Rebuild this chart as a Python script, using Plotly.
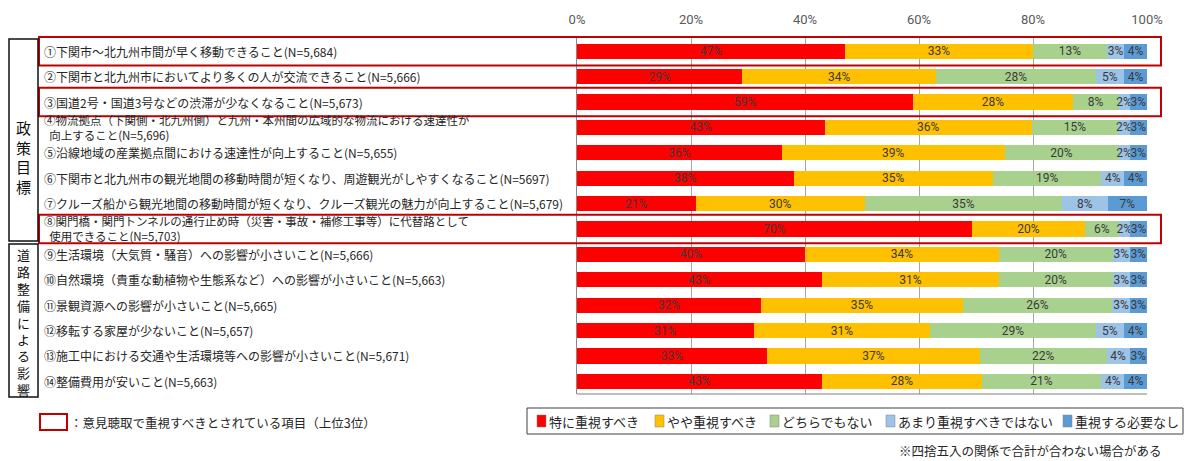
import plotly.graph_objects as go

# ---------------- data ----------------
categories = [
    "①下関市～北九州市間が早く移動できること(N=5,684)",
    "②下関市と北九州市においてより多くの人が交流できること(N=5,666)",
    "③国道2号・国道3号などの渋滞が少なくなること(N=5,673)",
    "④物流拠点（下関側・北九州側）と九州・本州間の広域的な物流における速達性が\n\u00a0\u00a0向上すること(N=5,696)",
    "⑤沿線地域の産業拠点間における速達性が向上すること(N=5,655)",
    "⑥下関市と北九州市の観光地間の移動時間が短くなり、周遊観光がしやすくなること(N=5697)",
    "⑦クルーズ船から観光地間の移動時間が短くなり、クルーズ観光の魅力が向上すること(N=5,679)",
    "⑧関門橋・関門トンネルの通行止め時（災害・事故・補修工事等）に代替路として\n\u00a0\u00a0使用できること(N=5,703)",
    "⑨生活環境（大気質・騒音）への影響が小さいこと(N=5,666)",
    "⑩自然環境（貴重な動植物や生態系など）への影響が小さいこと(N=5,663)",
    "⑪景観資源への影響が小さいこと(N=5,665)",
    "⑫移転する家屋が少ないこと(N=5,657)",
    "⑬施工中における交通や生活環境等への影響が小さいこと(N=5,671)",
    "⑭整備費用が安いこと(N=5,663)",
]
series_names = ["特に重視すべき", "やや重視すべき", "どちらでもない", "あまり重視すべきではない", "重視する必要なし"]
very_important = [47, 29, 59, 43, 36, 38, 21, 70, 40, 43, 32, 31, 33, 43]
somewhat_important = [33, 34, 28, 36, 39, 35, 30, 20, 34, 31, 35, 31, 37, 28]
neutral = [13, 28, 8, 15, 20, 19, 35, 6, 20, 20, 26, 29, 22, 21]
not_very_important = [3, 5, 2, 2, 2, 4, 8, 2, 3, 3, 3, 5, 4, 4]
not_needed = [4, 4, 3, 3, 3, 4, 7, 3, 3, 3, 3, 4, 3, 4]
series_values = [very_important, somewhat_important, neutral, not_very_important, not_needed]
highlighted_rows = [0, 2, 7]  # top 3 in hearing
group_names = ["政策目標", "道路整備による影響"]
tick_vals = [0, 20, 40, 60, 80, 100]
tick_text = ["0%", "20%", "40%", "60%", "80%", "100%"]
highlight_note = "：意見聴取で重視すべきとされている項目（上位3位）"
footnote = "※四捨五入の関係で合計が合わない場合がある"

# ---------------- style ----------------
colors = ["#FF0000", "#FFC000", "#A9D18E", "#9DC3E6", "#5B9BD5"]
JP = "Noto Sans CJK JP"
NUM = "Roboto"
W, H = 1191, 461
ML, MR, MT, MB = 577, 44, 36, 67
PW, PH = W - ML - MR, H - MT - MB


def px_x(px):
    return (px - ML) / PW


def px_y(py):
    return (H - MB - py) / PH


n = len(categories)
fig = go.Figure()
for name, vals, col in zip(series_names, series_values, colors):
    fig.add_trace(go.Bar(
        y=categories, x=vals, name=name, orientation="h",
        marker=dict(color=col, line=dict(width=0)),
        text=[f"{v}%" for v in vals], textposition="inside",
        insidetextanchor="middle", textangle=0,
        textfont=dict(family=NUM, size=12, color="#3a3a3a"),
        cliponaxis=False, width=0.6, showlegend=False,
    ))

annotations = []
shapes = []

# category labels (left aligned)
for i, lab in enumerate(categories):
    annotations.append(dict(
        x=px_x(42), xref="paper", xanchor="left", align="left",
        y=i, yref="y", yanchor="middle",
        text=lab.replace("\n", "<br>"), showarrow=False,
        font=dict(family=JP, size=12 if "\n" not in lab else 11.5, color="#262626"),
    ))

# highlighted rows
for i in highlighted_rows:
    shapes.append(dict(type="rect", xref="paper", yref="y",
                       x0=px_x(39), x1=px_x(1161), y0=i - 0.56, y1=i + 0.56,
                       line=dict(color="#C00000", width=2), fillcolor="rgba(0,0,0,0)",
                       layer="above"))

# group boxes with vertical text
group_px = [(39, 241), (244, 397)]
group_text_cy = [157, 322]
group_font = [15, 13]
for gname, (y0p, y1p), cy, fs in zip(group_names, group_px, group_text_cy, group_font):
    shapes.append(dict(type="rect", xref="paper", yref="paper",
                       x0=px_x(9), x1=px_x(38), y0=px_y(y0p), y1=px_y(y1p),
                       line=dict(color="#111111", width=1.5), fillcolor="rgba(0,0,0,0)"))
    annotations.append(dict(x=px_x(23.5), xref="paper", y=px_y(cy), yref="paper",
                            text="<br>".join(list(gname)), showarrow=False,
                            xanchor="center", yanchor="middle",
                            font=dict(family=JP, size=fs, color="#111111")))

# bottom axis line
shapes.append(dict(type="line", xref="paper", yref="paper", x0=0, x1=1, y0=0, y1=0,
                   line=dict(color="#808080", width=1)))

# highlight note
shapes.append(dict(type="rect", xref="paper", yref="paper",
                   x0=px_x(40), x1=px_x(67), y0=px_y(414), y1=px_y(430),
                   line=dict(color="#C00000", width=2), fillcolor="white"))
annotations.append(dict(x=px_x(68), xref="paper", y=px_y(422), yref="paper",
                        xanchor="left", yanchor="middle", text=highlight_note, showarrow=False,
                        font=dict(family=JP, size=12.5, color="#262626")))

# manual legend
shapes.append(dict(type="rect", xref="paper", yref="paper",
                   x0=px_x(527), x1=px_x(1183), y0=px_y(408), y1=px_y(434),
                   line=dict(color="#404040", width=1), fillcolor="white"))
leg_x = [537, 655, 770, 886, 1063]
for lx, name, col in zip(leg_x, series_names, colors):
    shapes.append(dict(type="rect", xref="paper", yref="paper",
                       x0=px_x(lx), x1=px_x(lx + 9), y0=px_y(415), y1=px_y(427),
                       line=dict(color="#808080", width=0.5), fillcolor=col))
    annotations.append(dict(x=px_x(lx + 10), xref="paper", y=px_y(421), yref="paper",
                            xanchor="left", yanchor="middle", text=name, showarrow=False,
                            font=dict(family=JP, size=13, color="#262626")))

# footnote
annotations.append(dict(x=px_x(1164), xref="paper", y=px_y(450), yref="paper",
                        xanchor="right", yanchor="middle", text=footnote, showarrow=False,
                        font=dict(family=JP, size=12.5, color="#262626")))

fig.update_layout(
    width=W, height=H, barmode="stack", barnorm="percent",
    margin=dict(l=ML, r=MR, t=MT, b=MB, pad=0, autoexpand=False),
    paper_bgcolor="white", plot_bgcolor="white",
    uniformtext=dict(minsize=12, mode="show"),
    annotations=annotations, shapes=shapes,
    xaxis=dict(side="top", range=[0, 100], tickvals=tick_vals, ticktext=tick_text,
               showgrid=True, gridcolor="#A6A6A6", gridwidth=1, zeroline=False,
               showline=False, ticks="", ticklabelstandoff=8, automargin=False,
               tickfont=dict(family=NUM, size=13, color="#595959")),
    yaxis=dict(type="category", categoryarray=categories, categoryorder="array",
               range=[n - 0.5, -0.6], autorange=False, showticklabels=False,
               showgrid=False, zeroline=False, showline=True, linecolor="#888888",
               linewidth=1, ticks="", automargin=False),
    showlegend=False,
)

fig.write_html("out.html", config={"displayModeBar": False},
               post_script="document.body.style.margin='0';")
